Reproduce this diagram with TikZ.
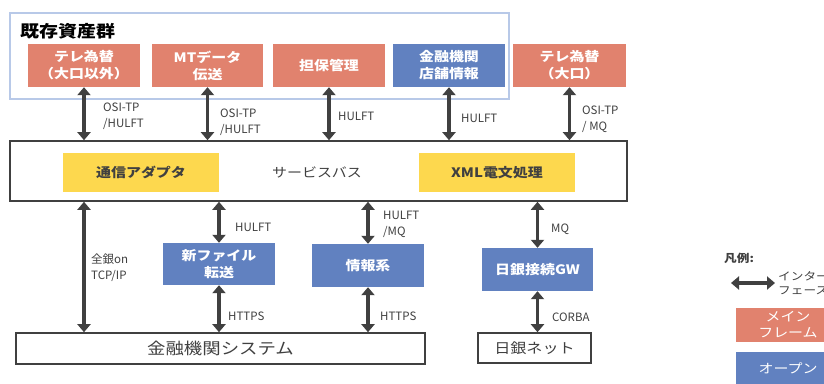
\documentclass[tikz,border=0pt]{standalone}
\usepackage{fontspec}
\setmainfont{Noto Sans CJK JP}[FakeStretch=1.15]
\newfontfamily\lblfont{Noto Sans CJK JP}
\usetikzlibrary{arrows.meta}
\definecolor{salmon}{HTML}{E1826E}
\definecolor{blueb}{HTML}{6181C0}
\definecolor{yel}{HTML}{FDD84E}
\definecolor{dk}{HTML}{404040}
\definecolor{grp}{HTML}{B8C9E8}
\tikzset{
  boxbase/.style={inner sep=0pt, align=center, font=\bfseries\fontsize{13}{17}\selectfont},
  mf/.style={boxbase, fill=salmon, text=white, minimum height=43pt},
  op/.style={boxbase, fill=blueb, text=white, minimum height=43pt},
  yl/.style={boxbase, fill=yel, text=dk, minimum width=156pt, minimum height=39pt},
  wbox/.style={inner sep=0pt, draw=dk, line width=1.6pt, fill=white},
  arr/.style={draw=dk, line width=3.5pt, {Triangle[width=13pt,length=8pt]}-{Triangle[width=13pt,length=8pt]}},
  lbl/.style={inner sep=0pt, anchor=west, align=left, text=dk, font=\lblfont\fontsize{11.5}{16}\selectfont},
}
\begin{document}
\begin{tikzpicture}[x=1pt,y=-1pt]
\path[use as bounding box, clip] (0,0) rectangle (824,383);
\fill[white] (0,0) rectangle (824,383);
% group
\node[draw=grp, line width=1.2pt, minimum width=499pt, minimum height=86pt, inner sep=0pt] (grp) at (259.5,56) {};
\node[inner sep=0pt, anchor=west, text=black, font=\bfseries\fontsize{16.5}{20}\selectfont] (title) at (20,31) {既存資産群};
% top boxes
\node[mf, minimum width=112pt] (g1) at (84,65.5) {テレ為替\\（大口以外）};
\node[mf, minimum width=111pt] (g2) at (207.5,65.5) {MTデータ\\伝送};
\node[mf, minimum width=112pt] (g3) at (329,65.5) {担保管理};
\node[op, minimum width=112pt] (g4) at (449,65.5) {金融機関\\店舗情報};
\node[mf, minimum width=113pt] (g5) at (569.5,65.5) {テレ為替\\（大口）};
% service bus
\node[wbox, minimum width=617pt, minimum height=60pt] (bus) at (318.5,171) {};
\node[yl] (adp) at (141,172.5) {通信アダプタ};
\node[yl] (xml) at (497,172.5) {XML電文処理};
\node[inner sep=0pt, text=dk, font=\fontsize{13}{16}\selectfont] (busl) at (317,172) {サービスバス};
% middle boxes
\node[op, minimum width=112pt, minimum height=42pt] (nf) at (219,264) {新ファイル\\転送};
\node[op, minimum width=112pt] (info) at (368,265.5) {情報系};
\node[op, minimum width=111pt] (gw) at (537.5,269.5) {日銀接続GW};
% bottom
\node[wbox, minimum width=409pt, minimum height=31pt, text=dk, font=\fontsize{16}{19}\selectfont] (sys) at (220.5,348.5) {金融機関システム};
\node[wbox, minimum width=113pt, minimum height=30pt, text=dk, font=\fontsize{14}{17}\selectfont] (boj) at (534.5,348) {日銀ネット};
% arrows top
\draw[arr] (g1.south) -- (g1.south |- bus.north);
\draw[arr] (g2.south) -- (g2.south |- bus.north);
\draw[arr] (g3.south) -- (g3.south |- bus.north);
\draw[arr] (g4.south) -- (g4.south |- bus.north);
\draw[arr] (g5.south) -- (g5.south |- bus.north);
% arrows bottom
\draw[arr] (g1 |- bus.south) -- (g1 |- sys.north);
\draw[arr] (nf |- bus.south) -- (nf.north);
\draw[arr] (nf.south) -- (nf |- sys.north);
\draw[arr] (info |- bus.south) -- (info.north);
\draw[arr] (info.south) -- (info |- sys.north);
\draw[arr] (gw |- bus.south) -- (gw.north);
\draw[arr] (gw.south) -- (gw |- boj.north);
% labels
\node[lbl] (l1) at (103,116.5) {OSI-TP\\/HULFT};
\node[lbl] (l2) at (220,122) {OSI-TP\\/HULFT};
\node[lbl] (l3) at (338,116) {HULFT};
\node[lbl] (l4) at (461,118) {HULFT};
\node[lbl] (l5) at (582,119) {OSI-TP\\/ MQ};
\node[lbl] (l6) at (91,267.5) {全銀on\\TCP/IP};
\node[lbl] (l7) at (235,227) {HULFT};
\node[lbl] (l8) at (383,224.5) {HULFT\\/MQ};
\node[lbl] (l9) at (551,229) {MQ};
\node[lbl] (l10) at (228,316) {HTTPS};
\node[lbl] (l11) at (380,316) {HTTPS};
\node[lbl] (l12) at (552,317) {CORBA};
% legend
\node[inner sep=0pt, anchor=west, text=dk, font=\bfseries\fontsize{11}{13}\selectfont] (lg) at (724,258) {凡例:};
\coordinate (la1) at (731,283);
\coordinate (la2) at (775,283);
\draw[arr] (la1) -- (la2);
\node[lbl, font=\fontsize{11}{14}\selectfont] (lgt) at (778,283) {インター\\フェース};
\node[fill=salmon, text=white, inner sep=0pt, align=center, minimum width=104pt, minimum height=34pt, font=\fontsize{13}{16}\selectfont] (lmf) at (788,325) {メイン\\フレーム};
\node[fill=blueb, text=white, inner sep=0pt, align=center, minimum width=104pt, minimum height=32pt, font=\fontsize{13}{16}\selectfont] (lop) at (788,368) {オープン};
\end{tikzpicture}
\end{document}
